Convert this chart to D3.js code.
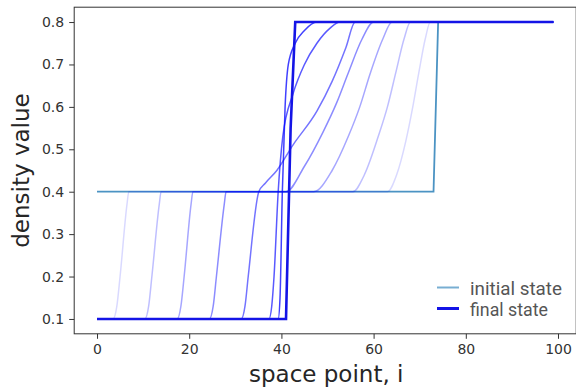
<!DOCTYPE html>
<html>
<head>
<meta charset="utf-8">
<script src="https://cdn.jsdelivr.net/npm/d3@7"></script>
<style>
  body { margin: 0; background: #fff; }
  svg { display: block; }
</style>
</head>
<body>
<svg id="chart" width="576" height="387"></svg>
<script>
// tick values
var x_ticks = [0, 20, 40, 60, 80, 100];
var y_ticks = [0.1, 0.2, 0.3, 0.4, 0.5, 0.6, 0.7, 0.8];

// initial and final profiles (breakpoints)
var initial_x = [0, 73, 74, 99];
var initial_y = [0.4, 0.4, 0.8, 0.8];
var final_x = [0, 41, 42, 43, 99];
var final_y = [0.1, 0.1, 0.55, 0.8, 0.8];

// intermediate states, [i, density] key points, earliest first
var step1 = [[0,0.1],[3.5,0.1],[4.3,0.13],[5.0,0.2],[6.5,0.37],[6.9,0.4],[63,0.4],[65,0.44],[67,0.52],[68.5,0.6],[69.8,0.68],[71.2,0.76],[72.3,0.8],[99,0.8]];
var step2 = [[0,0.1],[10.4,0.1],[11.2,0.13],[11.9,0.2],[13.5,0.37],[13.9,0.4],[55.5,0.4],[58,0.44],[61,0.53],[63,0.6],[64.8,0.68],[66.6,0.76],[68,0.8],[99,0.8]];
var step3 = [[0,0.1],[17.4,0.1],[18.2,0.13],[18.9,0.2],[20.4,0.37],[20.8,0.4],[47,0.4],[51,0.45],[54.5,0.53],[57,0.6],[59.3,0.68],[62,0.76],[64,0.8],[99,0.8]];
var step4 = [[0,0.1],[24.4,0.1],[25.2,0.13],[25.9,0.2],[27.6,0.37],[28,0.4],[41,0.4],[45,0.46],[49,0.54],[52,0.61],[54.5,0.68],[57.5,0.76],[60,0.8],[99,0.8]];
var step5 = [[0,0.1],[31.3,0.1],[32.1,0.13],[32.8,0.2],[35.1,0.4],[36.5,0.42],[39,0.45],[42.5,0.51],[47.7,0.59],[51,0.66],[54,0.74],[56,0.8],[99,0.8]];
var step6 = [[0,0.1],[37.3,0.1],[37.9,0.13],[38.4,0.2],[39.3,0.4],[40.3,0.53],[42.5,0.63],[45,0.7],[47.7,0.75],[50.5,0.785],[52.7,0.8],[99,0.8]];
var step7 = [[0,0.1],[39.3,0.1],[39.7,0.15],[40.2,0.4],[40.8,0.6],[41.5,0.7],[43,0.75],[45,0.78],[47.7,0.8],[99,0.8]];
var steps = [step1, step2, step3, step4, step5, step6, step7];
var step_alpha = [0.15, 0.25, 0.35, 0.45, 0.55, 0.65, 0.75];

var legend_labels = ["initial state", "final state"];

const INITIAL_COLOR = '#4b93c3';
const FINAL_COLOR = '#1414e6';
const STEP_COLOR = '#0000ff';

var svg = d3.select("#chart");

// plot area (matplotlib style 5% margins)
var pl = 74.2, pr = 576.2, pt = 7.2, pb = 333.8;

var x = d3.scaleLinear().domain([-4.95, 103.95]).range([pl, pr]);
var y = d3.scaleLinear().domain([0.065, 0.835]).range([pb, pt]);

var line_xy = d3.line()
    .x(function(d){ return x(d[0]); })
    .y(function(d){ return y(d[1]); });

var smooth_line = d3.line()
    .x(function(d){ return x(d[0]); })
    .y(function(d){ return y(d[1]); })
    .curve(d3.curveMonotoneX);

var plot = svg.append("g");

// initial state first so everything else goes over it
plot.append("path")
    .datum(d3.zip(initial_x, initial_y))
    .attr("d", line_xy)
    .attr("fill", "none")
    .attr("stroke", INITIAL_COLOR)
    .attr("stroke-width", 1.8);

plot.selectAll("path.step")
    .data(steps)
    .enter().append("path")
    .attr("class", "step")
    .attr("d", smooth_line)
    .attr("fill", "none")
    .attr("stroke", STEP_COLOR)
    .attr("stroke-opacity", function(d, i){ return step_alpha[i]; })
    .attr("stroke-width", 1.5);

plot.append("path")
    .datum(d3.zip(final_x, final_y))
    .attr("d", line_xy)
    .attr("fill", "none")
    .attr("stroke", FINAL_COLOR)
    .attr("stroke-width", 2.6);

// axes
var x_axis = svg.append("g")
    .attr("transform", "translate(0," + pb + ")")
    .call(d3.axisBottom(x).tickValues(x_ticks).tickSize(5).tickPadding(5));

var y_axis = svg.append("g")
    .attr("transform", "translate(" + pl + ",0)")
    .call(d3.axisLeft(y).tickValues(y_ticks).tickSize(5).tickPadding(5).tickFormat(d3.format(".1f")));

[x_axis, y_axis].forEach(function(a){
    a.select(".domain").remove();
    a.selectAll("line").attr("stroke", "#333").attr("stroke-width", 1);
    a.selectAll("text")
        .attr("fill", "#333")
        .style("font-family", "DejaVu Sans")
        .style("font-size", "14px");
});

// frame
svg.append("rect")
    .attr("x", pl)
    .attr("y", pt)
    .attr("width", pr - pl)
    .attr("height", pb - pt)
    .attr("fill", "none")
    .attr("stroke", "#333")
    .attr("stroke-width", 1);

// axis labels
svg.append("text")
    .attr("x", (pl + pr) / 2 + 1)
    .attr("y", 382)
    .attr("text-anchor", "middle")
    .attr("fill", "#262626")
    .style("font-family", "DejaVu Sans")
    .style("font-size", "23px")
    .text("space point, i");

svg.append("text")
    .attr("transform", "translate(29," + ((pt + pb) / 2) + ") rotate(-90)")
    .attr("text-anchor", "middle")
    .attr("fill", "#262626")
    .style("font-family", "DejaVu Sans")
    .style("font-size", "23px")
    .text("density value");

// legend
var legend = svg.append("g");
var legend_colors = [INITIAL_COLOR, FINAL_COLOR];
var legend_widths = [2, 3];
legend_labels.forEach(function(lbl, i){
    var yy = 287.5 + i * 21;
    legend.append("line")
        .attr("x1", 437).attr("x2", 459)
        .attr("y1", yy).attr("y2", yy)
        .attr("stroke", legend_colors[i])
        .attr("stroke-opacity", i === 0 ? 0.75 : 1)
        .attr("stroke-width", legend_widths[i]);
    legend.append("text")
        .attr("x", 470)
        .attr("y", yy + 7)
        .attr("fill", "#555")
        .attr("textLength", i === 0 ? 92 : 78)
        .attr("lengthAdjust", "spacingAndGlyphs")
        .style("font-family", "Roboto")
        .style("font-size", "19px")
        .text(lbl);
});
</script>
</body>
</html>
